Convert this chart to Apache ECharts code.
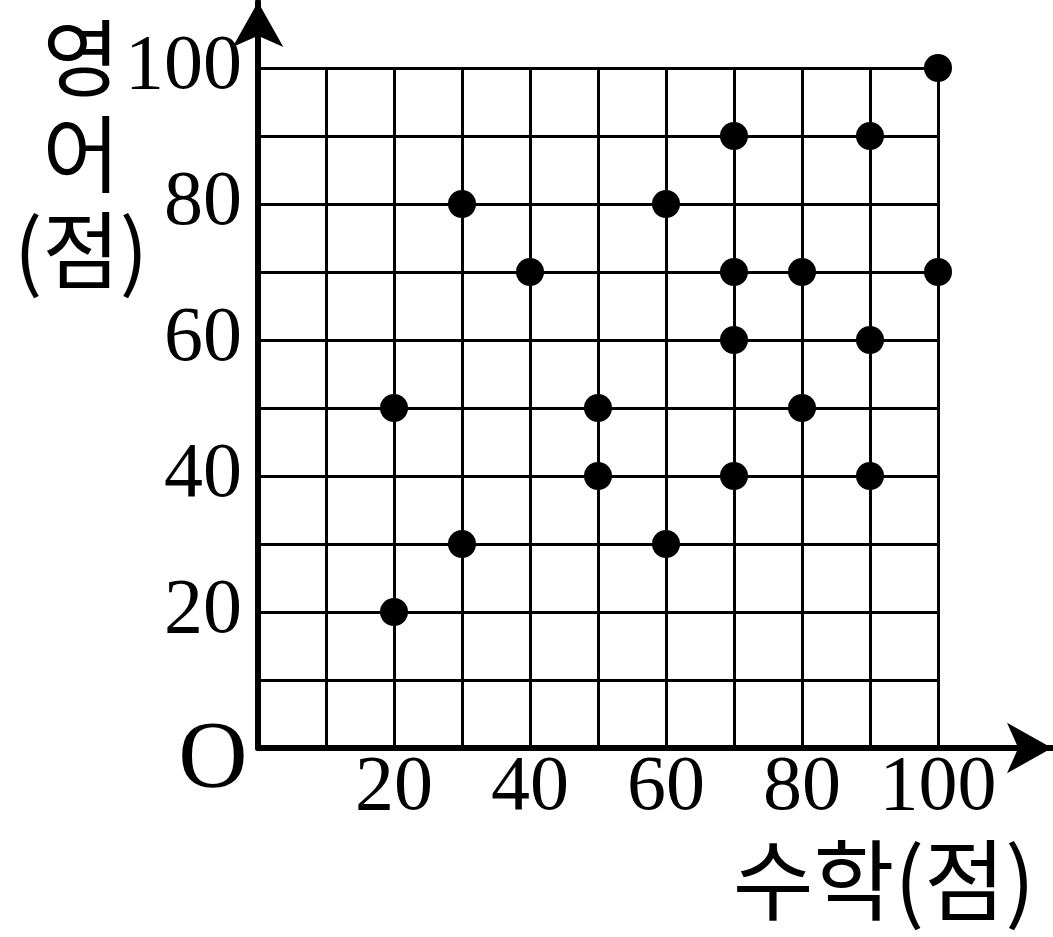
<!DOCTYPE html>
<html>
<head>
<meta charset="utf-8">
<script src="https://cdn.jsdelivr.net/npm/echarts@6/dist/echarts.min.js"></script>
<style>
html,body{margin:0;padding:0;background:#fff;}
#chart{width:1053px;height:937px;}
</style>
</head>
<body>
<div id="chart"></div>
<script>
// Data
const mathScores    = [20, 20, 30, 30, 40, 50, 50, 60, 60, 70, 70, 70, 70, 80, 80, 90, 90, 90, 100, 100];
const englishScores = [50, 20, 80, 30, 70, 50, 40, 80, 30, 90, 70, 60, 40, 70, 50, 90, 60, 40, 100, 70];
const axisMin = 0;
const axisMax = 100;
const gridStep = 10;
const labelStep = 20;
const xTitle = '수학(점)';
const yTitle = '영\n어\n(점)';
const originLabel = 'O';

const points = mathScores.map((m, i) => [m, englishScores[i]]);
const serif = '"Liberation Serif", "DejaVu Serif", serif';
const kor = '"Noto Sans CJK KR", sans-serif';
const fmt = v => (v > 0 && v % labelStep === 0) ? String(v) : '';

const chart = echarts.init(document.getElementById('chart'), null, {renderer: 'canvas'});
const option = {
  backgroundColor: '#fff',
  animation: false,
  grid: [
    {left: 258, top: 68, width: 680, height: 680},
    {left: 258, top: 2, right: 1, bottom: 189}
  ],
  xAxis: [
    {
      gridIndex: 0, type: 'value', min: axisMin, max: axisMax, interval: gridStep,
      axisLine: {show: false}, axisTick: {show: false},
      axisLabel: {formatter: fmt, color: '#000', fontFamily: serif, fontSize: 78, margin: 2},
      splitLine: {show: true, lineStyle: {color: '#000', width: 3}}
    },
    {
      gridIndex: 1, type: 'value', min: 0, max: 1,
      axisLine: {show: true, symbol: ['none', 'arrow'], symbolSize: [38, 45],
                 lineStyle: {color: '#000', width: 6}},
      axisTick: {show: false}, axisLabel: {show: false}, splitLine: {show: false}
    }
  ],
  yAxis: [
    {
      gridIndex: 0, type: 'value', min: axisMin, max: axisMax, interval: gridStep,
      axisLine: {show: false}, axisTick: {show: false},
      axisLabel: {formatter: fmt, color: '#000', fontFamily: serif, fontSize: 78, margin: 16},
      splitLine: {show: true, lineStyle: {color: '#000', width: 3}}
    },
    {
      gridIndex: 1, type: 'value', min: 0, max: 1,
      axisLine: {show: true, symbol: ['none', 'arrow'], symbolSize: [38, 45],
                 lineStyle: {color: '#000', width: 6}},
      axisTick: {show: false}, axisLabel: {show: false}, splitLine: {show: false}
    }
  ],
  series: [{
    type: 'scatter', xAxisIndex: 0, yAxisIndex: 0,
    data: points, symbol: 'circle', symbolSize: 28, clip: false,
    itemStyle: {color: '#000', opacity: 1}, z: 5
  }]
};
chart.setOption(option);

const origin = chart.convertToPixel({gridIndex: 0}, [axisMin, axisMin]);
chart.setOption({
  graphic: [
    {type: 'text', left: 14, top: 10, z: 10,
     style: {text: yTitle, font: '84px ' + kor, fill: '#000', align: 'center', lineHeight: 96, textAlign: 'center'}},
    {type: 'text', right: 18, top: 836, z: 10,
     style: {text: xTitle, font: '88px ' + kor, fill: '#000'}},
    {type: 'text', x: origin[0] - 45, y: origin[1] + 14, z: 10,
     style: {text: originLabel, font: '96px ' + serif, fill: '#000', textAlign: 'center', textVerticalAlign: 'middle'}}
  ]
});
</script>
</body>
</html>
